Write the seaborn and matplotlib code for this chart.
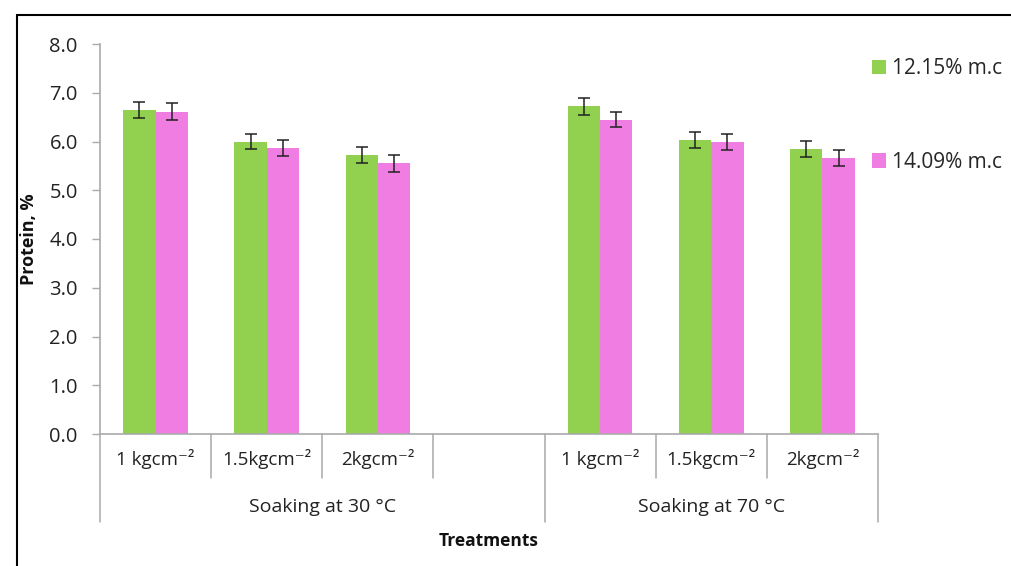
import matplotlib
matplotlib.use("Agg")
import matplotlib.pyplot as plt
import matplotlib.transforms as mtransforms
from matplotlib.lines import Line2D
from matplotlib.patches import Patch
import seaborn as sns
import pandas as pd
import numpy as np

# ---- data ----
slots = ["30_1", "30_1.5", "30_2", "gap", "70_1", "70_1.5", "70_2"]
slot_labels = ["1 kgcm⁻²", "1.5kgcm⁻²", "2kgcm⁻²", "", "1 kgcm⁻²", "1.5kgcm⁻²", "2kgcm⁻²"]
bar_slots = ["30_1", "30_1.5", "30_2", "70_1", "70_1.5", "70_2"]
series = ["12.15% m.c", "14.09% m.c"]
protein_1215 = [6.65, 6.00, 5.72, 6.72, 6.03, 5.85]
protein_1409 = [6.61, 5.87, 5.55, 6.45, 5.99, 5.66]
err_1215 = [0.17, 0.16, 0.17, 0.17, 0.17, 0.17]
err_1409 = [0.17, 0.17, 0.17, 0.16, 0.17, 0.17]
groups = ["Soaking at 30 °C", "Soaking at 70 °C"]
yticks = [0.0, 1.0, 2.0, 3.0, 4.0, 5.0, 6.0, 7.0, 8.0]

colors = ["#92D050", "#F07DE2"]

df = pd.DataFrame({
    "slot": bar_slots * 2,
    "series": [series[0]] * 6 + [series[1]] * 6,
    "protein": protein_1215 + protein_1409,
    "err": err_1215 + err_1409,
})

sns.set_theme(style="white")
plt.rcParams["font.family"] = ["Open Sans", "DejaVu Sans"]

fig = plt.figure(figsize=(10.11, 5.66), dpi=100)
ax = fig.add_axes([100 / 1011, 1 - 434 / 566, 778 / 1011, 390 / 566])

sns.barplot(data=df, x="slot", y="protein", hue="series", order=slots,
            hue_order=series, palette=colors, width=0.58, errorbar=None,
            saturation=1, linewidth=0, ax=ax, legend=False)

# error bars at the centers of the library-drawn bars
for cont, s in zip(ax.containers, series):
    sub = df[df["series"] == s].set_index("slot")
    xs, ys, es = [], [], []
    for patch in cont.patches:
        cx = patch.get_x() + patch.get_width() / 2
        idx = int(round(cx))
        key = slots[idx]
        xs.append(cx)
        ys.append(patch.get_height())
        es.append(sub.loc[key, "err"])
    ax.errorbar(xs, ys, yerr=es, fmt="none", ecolor="#222222",
                elinewidth=1.1, capsize=4, capthick=1.1, zorder=5)

ax.set_xlim(-0.5, len(slots) - 0.5)
ax.set_ylim(0, 8)
ax.set_yticks(yticks)
ax.set_yticklabels([f"{v:.1f}" for v in yticks], fontsize=14.5, color="#222222")
ax.set_xticks(range(len(slots)))
ax.set_xticklabels(slot_labels, fontsize=13.5, color="#222222")

for side in ["top", "right"]:
    ax.spines[side].set_visible(False)
for side in ["left", "bottom"]:
    ax.spines[side].set_color("#AAAAAA")
    ax.spines[side].set_linewidth(1.2)

ax.tick_params(axis="y", left=True, length=6, width=1, color="#AAAAAA", pad=10)
ax.tick_params(axis="x", bottom=False, length=0, pad=11)

ax.set_xlabel("Treatments", fontsize=12.5, fontweight="bold", color="#111111")
ax.xaxis.set_label_coords(0.5, -(98 / 390))
ax.set_ylabel("Protein, %", fontsize=13, fontweight="bold", color="#111111")
ax.yaxis.set_label_coords(-62 / 778, 0.5)

# category separators (multi-level axis)
trans = mtransforms.blended_transform_factory(ax.transData, ax.transAxes)
short_depth = -44 / 390
long_depth = -88 / 390
for b in [0.5, 1.5, 2.5, 4.5, 5.5]:
    ax.add_line(Line2D([b, b], [0, short_depth], transform=trans, color="#AAAAAA",
                       lw=1.1, clip_on=False))
for b in [-0.5, 3.5, 6.5]:
    ax.add_line(Line2D([b, b], [0, long_depth], transform=trans, color="#AAAAAA",
                       lw=1.1, clip_on=False))

ax.text(1.5, -73 / 390, groups[0], transform=trans, ha="center", va="center",
        fontsize=14, color="#222222")
ax.text(5.0, -73 / 390, groups[1], transform=trans, ha="center", va="center",
        fontsize=14, color="#222222")

# legend
handles = [Patch(facecolor=c, edgecolor="none") for c in colors]
fig.legend(handles, series, loc="upper left", bbox_to_anchor=(872 / 1011, 1 - 58 / 566),
           frameon=False, fontsize=15, handlelength=0.68, handleheight=0.68,
           handletextpad=0.3, labelspacing=3.5, borderaxespad=0, borderpad=0)

# outer black frame (top and left edges visible)
fig.add_artist(Line2D([17 / 1011, 1.0], [1 - 15 / 566, 1 - 15 / 566],
                      transform=fig.transFigure, color="black", lw=1.5))
fig.add_artist(Line2D([17 / 1011, 17 / 1011], [0, 1 - 15 / 566],
                      transform=fig.transFigure, color="black", lw=1.5))

fig.savefig("out.png", dpi=100, facecolor="white")
